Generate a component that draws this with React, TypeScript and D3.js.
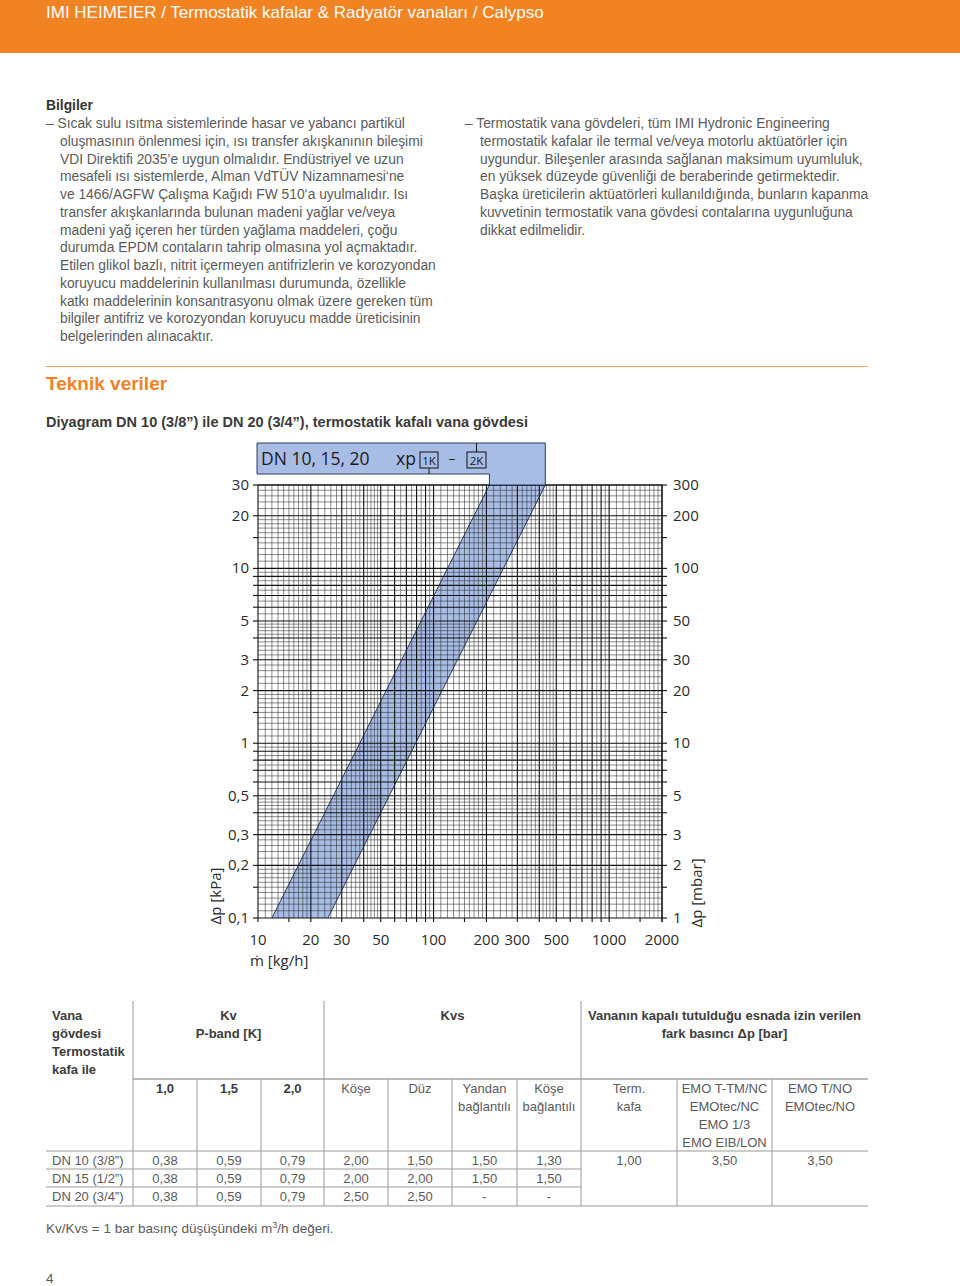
import React from "react";
import * as d3 from "d3";

const headerTitle = "IMI HEIMEIER / Termostatik kafalar & Radyatör vanaları / Calypso";

const leftLines = [
  "– Sıcak sulu ısıtma sistemlerinde hasar ve yabancı partikül",
  "oluşmasının önlenmesi için, ısı transfer akışkanının bileşimi",
  "VDI Direktifi 2035’e uygun olmalıdır. Endüstriyel ve uzun",
  "mesafeli ısı sistemlerde, Alman VdTÜV Nizamnamesi‘ne",
  "ve 1466/AGFW Çalışma Kağıdı FW 510‘a uyulmalıdır. Isı",
  "transfer akışkanlarında bulunan madeni yağlar ve/veya",
  "madeni yağ içeren her türden yağlama maddeleri, çoğu",
  "durumda EPDM contaların tahrip olmasına yol açmaktadır.",
  "Etilen glikol bazlı, nitrit içermeyen antifrizlerin ve korozyondan",
  "koruyucu maddelerinin kullanılması durumunda, özellikle",
  "katkı maddelerinin konsantrasyonu olmak üzere gereken tüm",
  "bilgiler antifriz ve korozyondan koruyucu madde üreticisinin",
  "belgelerinden alınacaktır.",
];

const rightLines = [
  "– Termostatik vana gövdeleri, tüm IMI Hydronic Engineering",
  "termostatik kafalar ile termal ve/veya motorlu aktüatörler için",
  "uygundur. Bileşenler arasında sağlanan maksimum uyumluluk,",
  "en yüksek düzeyde güvenliği de beraberinde getirmektedir.",
  "Başka üreticilerin aktüatörleri kullanıldığında, bunların kapanma",
  "kuvvetinin termostatik vana gövdesi contalarına uygunluğuna",
  "dikkat edilmelidir.",
];

// diagram
const massFlowLabels = [10, 20, 30, 50, 100, 200, 300, 500, 1000, 2000];
const kPaLabels = [0.1, 0.2, 0.3, 0.5, 1, 2, 3, 5, 10, 20, 30];
const mbarLabels = [1, 2, 3, 5, 10, 20, 30, 50, 100, 200, 300];
// band edges (m in kg/h, dp in kPa)
const edge1K = [{ m: 12, dp: 0.1 }, { m: 208, dp: 30 }];
const edge2K = [{ m: 25, dp: 0.1 }, { m: 433, dp: 30 }];

// table
const colEdges = [46, 133, 197, 261, 324, 388, 452, 517, 581, 677, 772, 868];
const pBands = ["1,0", "1,5", "2,0"];
const kvsHeads = [["Köşe"], ["Düz"], ["Yandan", "bağlantılı"], ["Köşe", "bağlantılı"]];
const dpHeads = [["Term.", "kafa"], ["EMO T-TM/NC", "EMOtec/NC", "EMO 1/3", "EMO EIB/LON"], ["EMO T/NO", "EMOtec/NO"]];
const rowNames = ["DN 10 (3/8”)", "DN 15 (1/2”)", "DN 20 (3/4”)"];
const kvValues = [
  ["0,38", "0,59", "0,79"],
  ["0,38", "0,59", "0,79"],
  ["0,38", "0,59", "0,79"],
];
const kvsValues = [
  ["2,00", "1,50", "1,50", "1,30"],
  ["2,00", "2,00", "1,50", "1,50"],
  ["2,50", "2,50", "-", "-"],
];
const dpValues = ["1,00", "3,50", "3,50"];

const ORANGE = "#f28322";
const BLUE = "#a8bde6";
const TXT = "#5a5a5a";
const BODY = "'Liberation Sans', Arial, sans-serif";
const CHART = "'Open Sans', sans-serif";

const fmt = (v: number) => String(v).replace(".", ",");

// log paper subdivisions inside one decade
function gridValues(lo: number, hi: number) {
  const fine: number[] = [];
  const major: number[] = [];
  for (let d = lo; d < hi; d *= 10) {
    for (let k = 1; k < 10; k++) {
      major.push(k * d);
      const step = k < 2 ? 0.1 : k < 5 ? 0.2 : 0.5;
      for (let s = k + step; s < k + 1 - 1e-9; s += step) fine.push(s * d);
    }
  }
  major.push(hi);
  return { fine: fine.filter((v) => v < hi), major: major.filter((v) => v <= hi * 1.0001) };
}

function Diagram() {
  const x = d3.scaleLog().domain([10, 2000]).range([258, 662]);
  const y = d3.scaleLog().domain([0.1, 30]).range([918, 485]);
  const [x0, x1] = x.range();
  const [yb, yt] = y.range();
  const gx = gridValues(10, 2000);
  const gy = gridValues(0.1, 30);

  const band = [
    [x(edge1K[0].m), y(edge1K[0].dp)],
    [x(edge2K[0].m), y(edge2K[0].dp)],
    [x(edge2K[1].m), y(edge2K[1].dp)],
    [x(edge1K[1].m), y(edge1K[1].dp)],
  ];
  const lx = x(edge1K[1].m);
  const rx = x(edge2K[1].m);
  const boxTop = 443;
  const boxBot = 474;
  const legend = [
    [257, boxTop],
    [rx, boxTop],
    [rx, yt],
    [lx, yt],
    [lx, boxBot],
    [257, boxBot],
  ];
  const tickVals = [1, 1.5, 2, 3, 4, 5, 6, 7, 8, 9];
  const xTicks = [10, 100, 1000].flatMap((d) => tickVals.map((t) => t * d)).filter((v) => v <= 2000).concat([2000]);
  const yTicks = [0.1, 1, 10].flatMap((d) => tickVals.map((t) => t * d)).filter((v) => v <= 30);

  return (
    <g>
      <polygon points={band.map((p) => p.join(",")).join(" ")} fill={BLUE} />
      <g stroke="#2a2a2a" strokeWidth={0.55}>
        {gx.fine.map((v, i) => (
          <line key={"fx" + i} x1={x(v)} x2={x(v)} y1={yt} y2={yb} />
        ))}
        {gy.fine.map((v, i) => (
          <line key={"fy" + i} x1={x0} x2={x1} y1={y(v)} y2={y(v)} />
        ))}
      </g>
      <g stroke="#111" strokeWidth={1.1}>
        {gx.major.map((v, i) => (
          <line key={"mx" + i} x1={x(v)} x2={x(v)} y1={yt} y2={yb} />
        ))}
        {gy.major.map((v, i) => (
          <line key={"my" + i} x1={x0} x2={x1} y1={y(v)} y2={y(v)} />
        ))}
        {xTicks.map((v, i) => (
          <line key={"tx" + i} x1={x(v)} x2={x(v)} y1={yb} y2={yb + 4} />
        ))}
        {yTicks.map((v, i) => (
          <g key={"ty" + i}>
            <line x1={x0 - 5} x2={x0} y1={y(v)} y2={y(v)} />
            <line x1={x1} x2={x1 + 5} y1={y(v)} y2={y(v)} />
          </g>
        ))}
      </g>
      <g stroke="#1c2a48" strokeWidth={0.9} fill="none">
        <line x1={band[0][0]} y1={band[0][1]} x2={band[3][0]} y2={band[3][1]} />
        <line x1={band[1][0]} y1={band[1][1]} x2={band[2][0]} y2={band[2][1]} />
      </g>
      <polygon
        points={legend.map((p) => p.join(",")).join(" ")}
        fill={BLUE}
        stroke="#1c2a48"
        strokeWidth={0.9}
      />
      <text x={261} y={465} fontFamily={CHART} fontSize={17.5} fill="#1a1a1a">
        DN 10, 15, 20
      </text>
      <text x={396} y={465} fontFamily={CHART} fontSize={17.5} fill="#1a1a1a">
        xp
      </text>
      <g stroke="#111" strokeWidth={1} fill="none">
        <rect x={420} y={452} width={18} height={16} />
        <line x1={429} x2={429} y1={468} y2={boxBot} />
        <rect x={467} y={452} width={19} height={16} />
        <line x1={476.5} x2={476.5} y1={boxTop} y2={452} />
      </g>
      <text x={429} y={464.5} textAnchor="middle" fontFamily={CHART} fontSize={11.5} fill="#1a1a1a">
        1K
      </text>
      <text x={452} y={463} textAnchor="middle" fontFamily={CHART} fontSize={13} fill="#1a1a1a">
        –
      </text>
      <text x={476.5} y={464.5} textAnchor="middle" fontFamily={CHART} fontSize={11.5} fill="#1a1a1a">
        2K
      </text>

      <g fontFamily={CHART} fontSize={15} fill="#2a2a2a">
        {kPaLabels.map((v) => (
          <text key={"kl" + v} x={249} y={y(v) + 5} textAnchor="end">
            {fmt(v)}
          </text>
        ))}
        {mbarLabels.map((v) => (
          <text key={"ml" + v} x={673} y={y(v / 10) + 5}>
            {v}
          </text>
        ))}
        {massFlowLabels.map((v) => (
          <text key={"xl" + v} x={x(v)} y={945} textAnchor="middle">
            {v}
          </text>
        ))}
        <text x={250} y={966}>ṁ [kg/h]</text>
        <text transform="translate(221,896) rotate(-90)" textAnchor="middle">
          Δp [kPa]
        </text>
        <text transform="translate(702,893) rotate(-90)" textAnchor="middle">
          Δp [mbar]
        </text>
      </g>
    </g>
  );
}

function Table() {
  const c = (i: number) => (colEdges[i] + colEdges[i + 1]) / 2;
  const top = 1001;
  const headBot = 1079;
  const rowLines = [1151, 1169, 1187];
  const bot = 1206;
  const rowY = [1164.5, 1182.5, 1200.5];
  const lh = 18;
  return (
    <g fontFamily={BODY} fontSize={13}>
      <g stroke="#999" strokeWidth={1}>
        <line x1={133} x2={868} y1={headBot} y2={headBot} stroke="#777" strokeWidth={1.2} />
        <line x1={46} x2={868} y1={rowLines[0]} y2={rowLines[0]} />
        <line x1={46} x2={581} y1={rowLines[1]} y2={rowLines[1]} />
        <line x1={46} x2={581} y1={rowLines[2]} y2={rowLines[2]} />
        <line x1={46} x2={868} y1={bot} y2={bot} />
        {[133, 324, 581].map((v) => (
          <line key={"vt" + v} x1={v} x2={v} y1={top} y2={bot} />
        ))}
        {[197, 261, 388, 452, 517, 677, 772].map((v) => (
          <line key={"vs" + v} x1={v} x2={v} y1={headBot} y2={bot} />
        ))}
      </g>
      <g fontWeight="bold" fill="#3c3c3c">
        {["Vana", "gövdesi", "Termostatik", "kafa ile"].map((t, i) => (
          <text key={t} x={52} y={1019.5 + i * lh}>
            {t}
          </text>
        ))}
        <text x={228.5} y={1019.5} textAnchor="middle">Kv</text>
        <text x={228.5} y={1037.5} textAnchor="middle">P-band [K]</text>
        <text x={452.5} y={1019.5} textAnchor="middle">Kvs</text>
        <text x={724.5} y={1019.5} textAnchor="middle">Vananın kapalı tutulduğu esnada izin verilen</text>
        <text x={724.5} y={1037.5} textAnchor="middle">fark basıncı Δp [bar]</text>
        {pBands.map((t, i) => (
          <text key={t} x={c(i + 1)} y={1092.5} textAnchor="middle">
            {t}
          </text>
        ))}
      </g>
      <g fill={TXT}>
        {kvsHeads.map((ls, i) =>
          ls.map((t, j) => (
            <text key={"kh" + i + j} x={c(i + 4)} y={1092.5 + j * lh} textAnchor="middle">
              {t}
            </text>
          ))
        )}
        {dpHeads.map((ls, i) =>
          ls.map((t, j) => (
            <text key={"dh" + i + j} x={c(i + 8)} y={1092.5 + j * lh} textAnchor="middle">
              {t}
            </text>
          ))
        )}
        {rowNames.map((t, r) => (
          <g key={t}>
            <text x={52} y={rowY[r]}>{t}</text>
            {kvValues[r].map((v, i) => (
              <text key={"kv" + i} x={c(i + 1)} y={rowY[r]} textAnchor="middle">
                {v}
              </text>
            ))}
            {kvsValues[r].map((v, i) => (
              <text key={"kvs" + i} x={c(i + 4)} y={rowY[r]} textAnchor="middle">
                {v}
              </text>
            ))}
          </g>
        ))}
        {dpValues.map((v, i) => (
          <text key={"dp" + i} x={c(i + 8)} y={rowY[0]} textAnchor="middle">
            {v}
          </text>
        ))}
      </g>
    </g>
  );
}

export default function App() {
  const step = 17.75;
  return (
    <svg
      width={960}
      height={1286}
      style={{ position: "absolute", left: 0, top: 0, background: "#fff" }}
    >
      <rect x={0} y={0} width={960} height={53} fill={ORANGE} />
      <text x={46} y={18} fontFamily={BODY} fontSize={17} fill="#fff">
        {headerTitle}
      </text>

      <text x={46} y={110} fontFamily={BODY} fontSize={13.8} fontWeight="bold" fill="#333">
        Bilgiler
      </text>
      <g fontFamily={BODY} fontSize={13.8} fill={TXT}>
        {leftLines.map((t, i) => (
          <text key={"l" + i} x={i === 0 ? 46 : 60} y={128 + i * step}>
            {t}
          </text>
        ))}
        {rightLines.map((t, i) => (
          <text key={"r" + i} x={i === 0 ? 465 : 480} y={128 + i * step}>
            {t}
          </text>
        ))}
      </g>

      <line x1={46} x2={868} y1={366.5} y2={366.5} stroke="#f4a262" strokeWidth={1} />
      <text x={46} y={390} fontFamily={BODY} fontSize={19} fontWeight="bold" fill="#ee8227">
        Teknik veriler
      </text>
      <text x={46} y={427} fontFamily={BODY} fontSize={14.5} fontWeight="bold" fill="#3a3a3a">
        Diyagram DN 10 (3/8”) ile DN 20 (3/4”), termostatik kafalı vana gövdesi
      </text>

      <Diagram />
      <Table />

      <g fontFamily={BODY} fontSize={13.5} fill={TXT}>
        <text x={46} y={1233}>
          Kv/Kvs = 1 bar basınç düşüşündeki m<tspan dy={-5} fontSize={9}>3</tspan>
          <tspan dy={5}>/h değeri.</tspan>
        </text>
        <text x={46} y={1283}>4</text>
      </g>
    </svg>
  );
}
